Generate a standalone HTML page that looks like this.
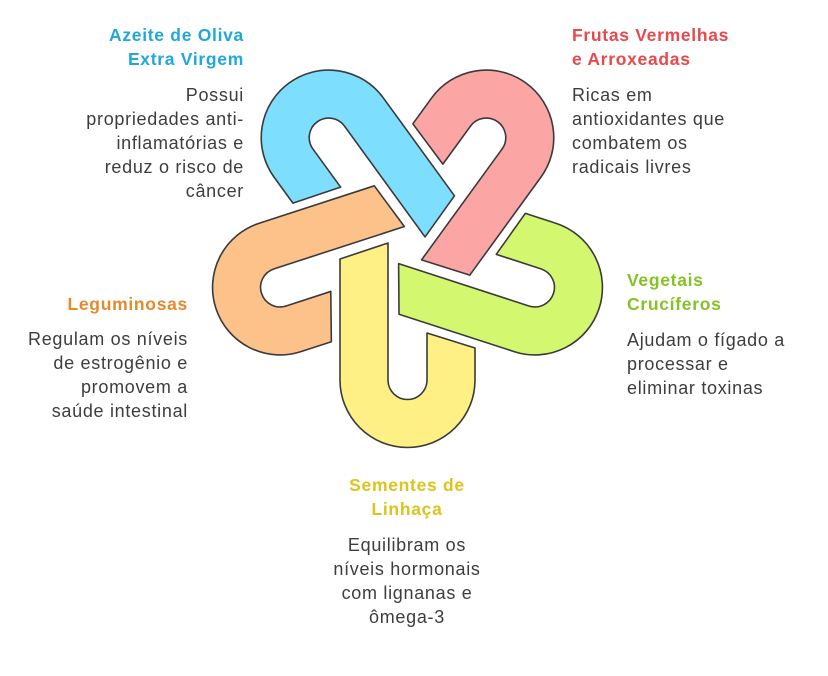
<!DOCTYPE html>
<html><head><meta charset="utf-8"><style>
html,body{margin:0;padding:0;background:#fff;}
svg{display:block}
.t{font-family:"Liberation Sans",sans-serif;font-weight:bold;font-size:17.5px;letter-spacing:0.7px}
.b{font-family:"Liberation Sans",sans-serif;font-size:18px;fill:#3d3d3d;letter-spacing:0.7px}
</style></head><body>
<svg width="828" height="676" viewBox="0 0 828 676" xmlns="http://www.w3.org/2000/svg">
<defs>
<path id="u" d="M-67.5,13 L-19.5,-3 L-19.5,134 A19.5,19.5 0 0 0 19.5,134 L19.5,87 L67.5,102 L67.5,134 A67.5,67.5 0 0 1 -67.5,134 Z" stroke="#3a3a3a" stroke-width="1.6" stroke-linejoin="round"/>
</defs>
<g transform="translate(407.5,246)">
<use href="#u" fill="#fef085"/>
<use href="#u" fill="#fdc18a" transform="rotate(72)"/>
<use href="#u" fill="#7ddffd" transform="rotate(144)"/>
<use href="#u" fill="#fca5a5" transform="rotate(216)"/>
<use href="#u" fill="#d3f870" transform="rotate(288)"/>
</g>
<g text-anchor="end">
<text class="t" fill="#1fa8d9" x="244" y="41">Azeite de Oliva</text>
<text class="t" fill="#1fa8d9" x="244" y="65">Extra Virgem</text>
<text class="b" x="244" y="101">Possui</text>
<text class="b" x="244" y="125">propriedades anti-</text>
<text class="b" x="244" y="149">inflamatórias e</text>
<text class="b" x="244" y="173">reduz o risco de</text>
<text class="b" x="244" y="197">câncer</text>
<text class="t" fill="#e58a2b" x="188" y="310">Leguminosas</text>
<text class="b" x="188" y="345">Regulam os níveis</text>
<text class="b" x="188" y="369">de estrogênio e</text>
<text class="b" x="188" y="393">promovem a</text>
<text class="b" x="188" y="417">saúde intestinal</text>
</g>
<g>
<text class="t" fill="#e8494d" x="572" y="41">Frutas Vermelhas</text>
<text class="t" fill="#e8494d" x="572" y="65">e Arroxeadas</text>
<text class="b" x="572" y="101">Ricas em</text>
<text class="b" x="572" y="125">antioxidantes que</text>
<text class="b" x="572" y="149">combatem os</text>
<text class="b" x="572" y="173">radicais livres</text>
<text class="t" fill="#84c225" x="627" y="286">Vegetais</text>
<text class="t" fill="#84c225" x="627" y="310">Crucíferos</text>
<text class="b" x="627" y="346">Ajudam o fígado a</text>
<text class="b" x="627" y="370">processar e</text>
<text class="b" x="627" y="394">eliminar toxinas</text>
</g>
<g text-anchor="middle">
<text class="t" fill="#dcc41c" x="407" y="491">Sementes de</text>
<text class="t" fill="#dcc41c" x="407" y="515">Linhaça</text>
<text class="b" x="407" y="551">Equilibram os</text>
<text class="b" x="407" y="575">níveis hormonais</text>
<text class="b" x="407" y="599">com lignanas e</text>
<text class="b" x="407" y="623">ômega-3</text>
</g>
</svg>
</body></html>
